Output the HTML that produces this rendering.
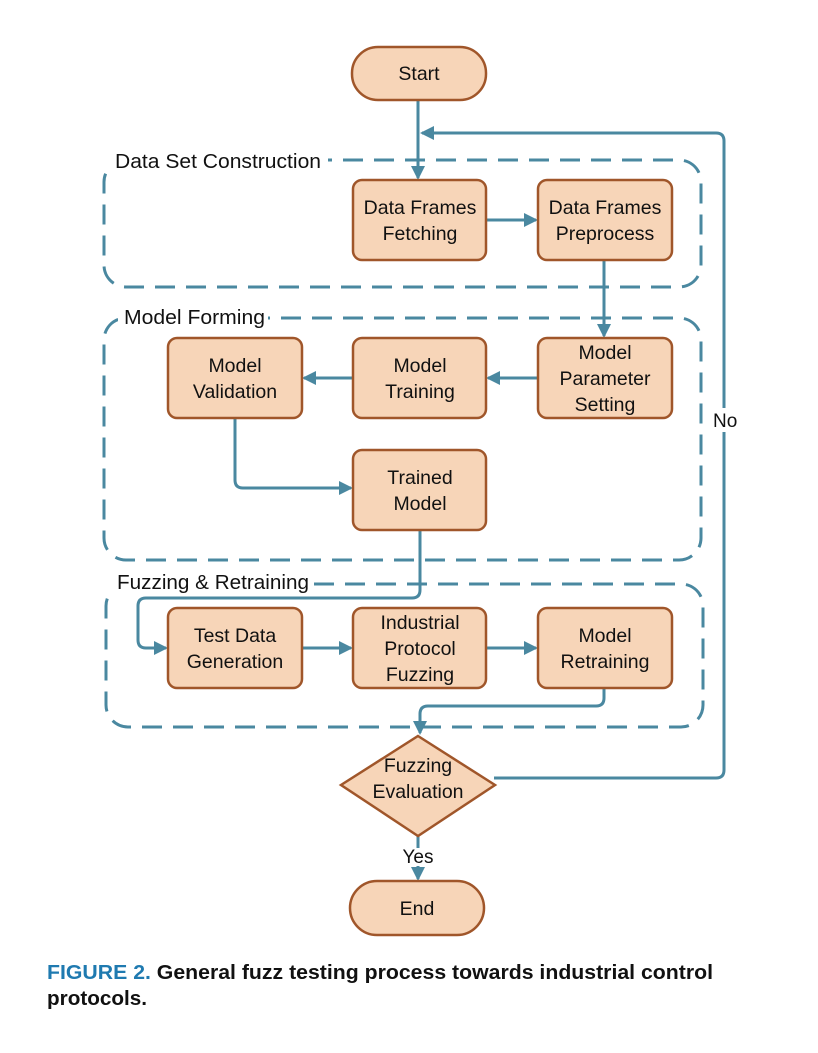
<!DOCTYPE html>
<html><head><meta charset="utf-8"><style>
body{margin:0;background:#fff;}
svg text{font-family:"Liberation Sans",sans-serif;}
</style></head><body>
<svg width="818" height="1048" viewBox="0 0 818 1048" xmlns="http://www.w3.org/2000/svg">
<defs>
<marker id="ar" markerWidth="14" markerHeight="14" refX="12" refY="7" orient="auto" markerUnits="userSpaceOnUse">
<path d="M0,0 L14,7 L0,14 z" fill="#4a88a0"/></marker>
</defs>
<rect width="818" height="1048" fill="#fff"/>
<g fill="none" stroke="#4a88a0" stroke-width="3" stroke-dasharray="20,11">
<rect x="104" y="160" width="597" height="127" rx="22"/>
<rect x="104" y="318" width="597" height="242" rx="22"/>
<rect x="106" y="584" width="597" height="143" rx="22"/>
</g>
<g font-size="20" fill="#111">
<rect x="110" y="148" width="218" height="26" fill="#fff"/>
<text x="115" y="168" textLength="206" lengthAdjust="spacingAndGlyphs">Data Set Construction</text>
<rect x="118" y="305" width="150" height="26" fill="#fff"/>
<text x="124" y="324" textLength="141" lengthAdjust="spacingAndGlyphs">Model Forming</text>
<rect x="112" y="570" width="200" height="26" fill="#fff"/>
<text x="117" y="589" textLength="192" lengthAdjust="spacingAndGlyphs">Fuzzing &amp; Retraining</text>
</g>
<g fill="none" stroke="#4a88a0" stroke-width="3">
<path d="M418,100 V178" marker-end="url(#ar)"/>
<path d="M494,778 H716 Q724,778 724,770 V141 Q724,133 716,133 H422" marker-end="url(#ar)"/>
<path d="M486,220 H536" marker-end="url(#ar)"/>
<path d="M604,260 V336" marker-end="url(#ar)"/>
<path d="M538,378 H488" marker-end="url(#ar)"/>
<path d="M353,378 H304" marker-end="url(#ar)"/>
<path d="M235,418 V480 Q235,488 243,488 H351" marker-end="url(#ar)"/>
<path d="M420,530 V590 Q420,598 412,598 H146 Q138,598 138,606 V640 Q138,648 146,648 H166" marker-end="url(#ar)"/>
<path d="M302,648 H351" marker-end="url(#ar)"/>
<path d="M486,648 H536" marker-end="url(#ar)"/>
<path d="M604,688 V698 Q604,706 596,706 H428 Q420,706 420,714 V733" marker-end="url(#ar)"/>
<path d="M418,835 V848"/>
<path d="M418,866 V879" marker-end="url(#ar)"/>
</g>
<rect x="712" y="408" width="30" height="24" fill="#fff"/>
<text x="713" y="427" font-size="19" fill="#111">No</text>
<text x="418" y="863" font-size="19" fill="#111" text-anchor="middle">Yes</text>
<g fill="#f7d5b8" stroke="#a0562a" stroke-width="2.5">
<rect x="352" y="47" width="134" height="53" rx="26"/>
<rect x="353" y="180" width="133" height="80" rx="9"/>
<rect x="538" y="180" width="134" height="80" rx="9"/>
<rect x="168" y="338" width="134" height="80" rx="9"/>
<rect x="353" y="338" width="133" height="80" rx="9"/>
<rect x="538" y="338" width="134" height="80" rx="9"/>
<rect x="353" y="450" width="133" height="80" rx="9"/>
<rect x="168" y="608" width="134" height="80" rx="9"/>
<rect x="353" y="608" width="133" height="80" rx="9"/>
<rect x="538" y="608" width="134" height="80" rx="9"/>
<path d="M418,736 L495,785 L418,836 L341,785 z"/>
<rect x="350" y="881" width="134" height="54" rx="27"/>
</g>
<g font-size="19.5" fill="#111" text-anchor="middle">
<text x="419" y="80">Start</text>
<text x="420" y="214">Data Frames</text><text x="420" y="240">Fetching</text>
<text x="605" y="214">Data Frames</text><text x="605" y="240">Preprocess</text>
<text x="235" y="372">Model</text><text x="235" y="398">Validation</text>
<text x="420" y="372">Model</text><text x="420" y="398">Training</text>
<text x="605" y="359">Model</text><text x="605" y="385">Parameter</text><text x="605" y="411">Setting</text>
<text x="420" y="484">Trained</text><text x="420" y="510">Model</text>
<text x="235" y="642">Test Data</text><text x="235" y="668">Generation</text>
<text x="420" y="629">Industrial</text><text x="420" y="655">Protocol</text><text x="420" y="681">Fuzzing</text>
<text x="605" y="642">Model</text><text x="605" y="668">Retraining</text>
<text x="418" y="772">Fuzzing</text><text x="418" y="798">Evaluation</text>
<text x="417" y="915">End</text>
</g>
<g font-size="20" font-weight="bold" fill="#111">
<text x="47" y="979" textLength="666" lengthAdjust="spacingAndGlyphs"><tspan fill="#1f7ab0">FIGURE 2.</tspan>  General fuzz testing process towards industrial control</text>
<text x="47" y="1005" textLength="100" lengthAdjust="spacingAndGlyphs">protocols.</text>
</g>
</svg>
</body></html>
